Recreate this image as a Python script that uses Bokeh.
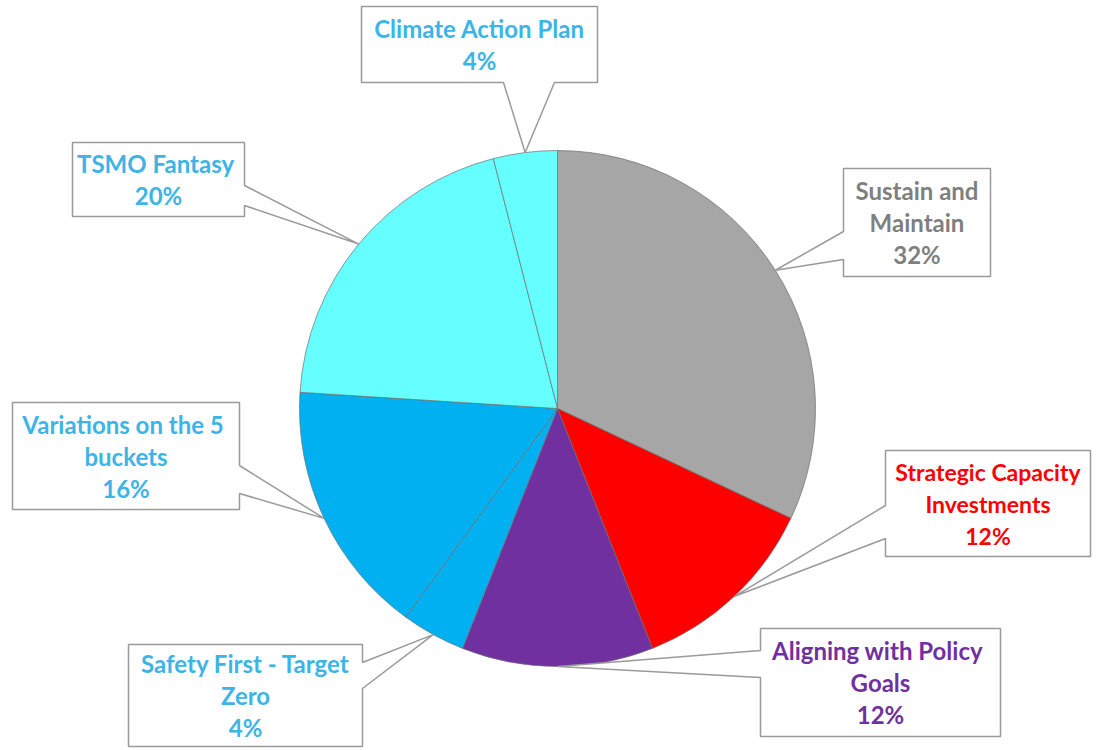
import math
from bokeh.plotting import figure
from bokeh.models import Range1d, ColumnDataSource
from bokeh.core.properties import value
from bokeh.embed import file_html
from bokeh.resources import INLINE

# ---- data ----
categories = ["Sustain and Maintain", "Strategic Capacity Investments",
              "Aligning with Policy Goals", "Safety First - Target Zero",
              "Variations on the 5 buckets", "TSMO Fantasy", "Climate Action Plan"]
values = [32, 12, 12, 4, 16, 20, 4]
slice_colors = ["#A6A6A6", "#FF0000", "#7030A0", "#00B0F0", "#00B0F0", "#66FFFF", "#66FFFF"]
text_colors = ["#7F7F7F", "#FF0000", "#7030A0", "#3DB4E6", "#3DB4E6", "#3DB4E6", "#3DB4E6"]
label_lines = [["Sustain and", "Maintain"], ["Strategic Capacity", "Investments"],
               ["Aligning  with Policy", "Goals"], ["Safety First - Target", "Zero"],
               ["Variations  on the 5", "buckets"], ["TSMO  Fantasy"], ["Climate Action Plan"]]

# ---- layout (image pixel coordinates, y downward) ----
W, H = 1095, 748
CX, CY, R = 557, 408, 258
# box: left, top, right, bottom, side of pointer, pointer base (a, b), font px
boxes = [
    (843, 168, 990, 276, "left", 231, 259, 24),
    (885, 450, 1090, 556, "left", 505, 538, 23),
    (760, 628, 1000, 736, "left", 650, 677, 24),
    (128, 644, 362, 746, "right", 662, 688, 24),
    (12, 402, 239, 509, "right", 465, 493, 24),
    (72, 142, 244, 216, "right", 185, 205, 24),
    (361, 6, 597, 82, "bottom", 503, 554, 24),
]
LINE_H = 32

def Y(iy):
    return H - iy

p = figure(width=W, height=H, output_backend="svg", toolbar_location=None,
           x_range=Range1d(0, W), y_range=Range1d(0, H),
           min_border=0, outline_line_color=None)
p.axis.visible = False
p.grid.visible = False
p.background_fill_color = "white"

total = sum(values)
starts, ends, mids = [], [], []
cum = 0.0
for v in values:
    a0 = math.pi / 2 - 2 * math.pi * cum / total
    a1 = math.pi / 2 - 2 * math.pi * (cum + v) / total
    starts.append(a0)
    ends.append(a1)
    mids.append((a0 + a1) / 2)
    cum += v

src = ColumnDataSource(dict(start=starts, end=ends, color=slice_colors, cat=categories))
p.wedge(x=CX, y=Y(CY), radius=R, start_angle="start", end_angle="end", direction="clock",
        fill_color="color", line_color="#6f6f6f", line_alpha=0.7, line_width=1, source=src)

tx, ty, tt, tc, ts = [], [], [], [], []
for i, (l, t, r, b, side, pa, pb, fs) in enumerate(boxes):
    tipx = CX + R * math.cos(mids[i])
    tipy = CY - R * math.sin(mids[i])
    if side == "left":
        pts = [(l, t), (r, t), (r, b), (l, b), (l, pb), (tipx, tipy), (l, pa)]
    elif side == "right":
        pts = [(l, t), (r, t), (r, pa), (tipx, tipy), (r, pb), (r, b), (l, b)]
    else:
        pts = [(l, t), (r, t), (r, b), (pb, b), (tipx, tipy), (pa, b), (l, b)]
    p.patch([q[0] for q in pts], [Y(q[1]) for q in pts], fill_color="white",
            line_color="#9a9a9a", line_width=1.5)
    lines = label_lines[i] + [f"{values[i]}%"]
    n = len(lines)
    cyb = (t + b) / 2
    for k, s in enumerate(lines):
        tx.append((l + r) / 2)
        ty.append(Y(cyb + (k - (n - 1) / 2) * LINE_H))
        tt.append(s)
        tc.append(text_colors[i])
        ts.append(f"{fs}px")

tsrc = ColumnDataSource(dict(x=tx, y=ty, text=tt, color=tc, size=ts))
p.text(x="x", y="y", text="text", text_color="color", text_font_size="size",
       text_align="center", text_baseline="middle",
       text_font=value("Lato"), text_font_style="bold", source=tsrc)

open("out.html", "w").write(file_html(p, INLINE))
